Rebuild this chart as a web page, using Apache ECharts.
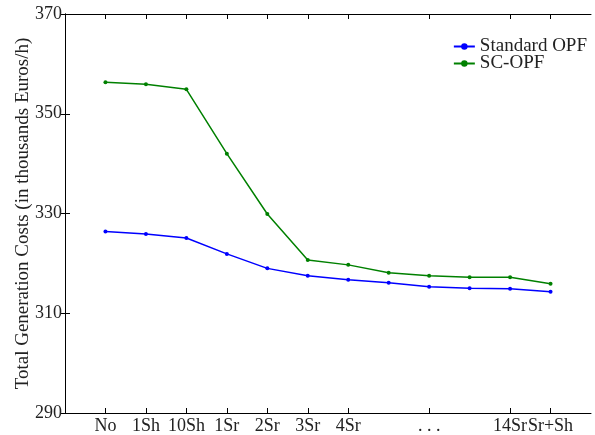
<!DOCTYPE html>
<html>
<head>
<meta charset="utf-8">
<script src="https://cdn.jsdelivr.net/npm/echarts@6/dist/echarts.min.js"></script>
<style>
    html, body { margin: 0; padding: 0; background: #fff; }
    #chart { width: 595px; height: 435px; }
</style>
</head>
<body>
<div id="chart"></div>
<script>
    // x positions 1..12, labels (blank ones have no tick)
    var xLabels = ['No', '1Sh', '10Sh', '1Sr', '2Sr', '3Sr', '4Sr', '', '. . .', '', '14Sr', 'Sr+Sh'];
    var standardOPF = [326.4, 325.9, 325.1, 321.9, 319.0, 317.5, 316.7, 316.1, 315.3, 315.0, 314.9, 314.3];
    var scOPF = [356.3, 355.9, 354.9, 342.0, 329.9, 320.7, 319.7, 318.1, 317.5, 317.2, 317.2, 315.9];
    var yTicks = [290, 310, 330, 350, 370];

    var tickPos = [];
    for (var i = 0; i < xLabels.length; i++) {
        if (xLabels[i] !== '') tickPos.push(i + 1);
    }
    function pairs(arr) {
        return arr.map(function (v, i) { return [i + 1, v]; });
    }

    var font = 'Liberation Serif';
    var txt = '#222';
    var chart = echarts.init(document.getElementById('chart'));

    var xBase = {
        type: 'value', min: 0, max: 13,
        axisLine: { show: true, onZero: false, lineStyle: { color: '#000', width: 1 } },
        axisTick: { show: true, inside: true, length: 5, customValues: tickPos, lineStyle: { color: '#000' } },
        splitLine: { show: false }
    };
    var yBase = {
        type: 'value', min: 290, max: 370, interval: 20,
        axisLine: { show: true, lineStyle: { color: '#000', width: 1 } },
        axisTick: { show: true, inside: true, length: 5, lineStyle: { color: '#000' } },
        splitLine: { show: false }
    };

    chart.setOption({
        animation: false,
        textStyle: { fontFamily: font },
        grid: { left: 65, right: 4, top: 14, bottom: 20 },
        legend: {
            orient: 'vertical',
            right: 3,
            top: 32,
            itemWidth: 21,
            itemHeight: 8,
            itemGap: -2,
            itemTextGap: 2,
            textStyle: { fontFamily: font, fontSize: 19, color: txt },
            data: ['Standard OPF', 'SC-OPF']
        },
        xAxis: [
            Object.assign({}, xBase, {
                position: 'bottom',
                axisLabel: {
                    show: true, customValues: tickPos, margin: 4,
                    fontFamily: font, fontSize: 18, color: txt,
                    formatter: function (v) { return xLabels[v - 1] || ''; }
                }
            }),
            Object.assign({}, xBase, { position: 'top', axisLabel: { show: false } })
        ],
        yAxis: [
            Object.assign({}, yBase, {
                position: 'left',
                name: 'Total Generation Costs (in thousands Euros/h)',
                nameLocation: 'middle',
                nameGap: 32,
                nameMoveOverlap: false,
                nameTextStyle: { fontFamily: font, fontSize: 19, color: txt },
                axisLabel: {
                    show: true, margin: 3, fontFamily: font, fontSize: 18, color: txt,
                    customValues: yTicks
                }
            }),
            Object.assign({}, yBase, { position: 'right', axisLabel: { show: false } })
        ],
        series: [
            {
                name: 'Standard OPF',
                type: 'line',
                data: pairs(standardOPF),
                color: '#0000ff',
                symbol: 'circle',
                symbolSize: 4,
                lineStyle: { width: 1.5 }
            },
            {
                name: 'SC-OPF',
                type: 'line',
                data: pairs(scOPF),
                color: '#008000',
                symbol: 'circle',
                symbolSize: 4,
                lineStyle: { width: 1.5 }
            }
        ]
    });
</script>
</body>
</html>
